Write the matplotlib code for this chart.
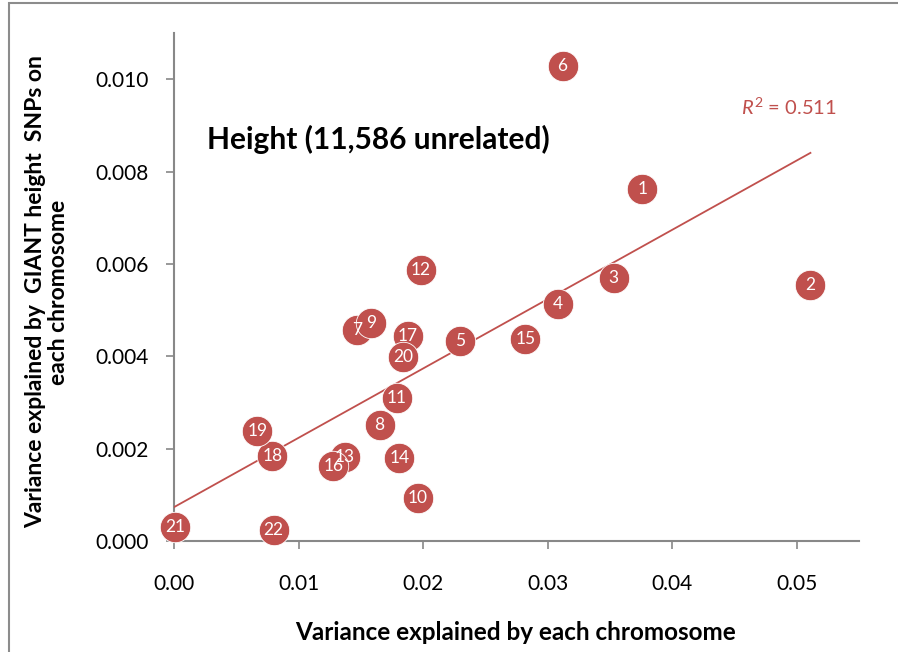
import numpy as np
import matplotlib
matplotlib.use("Agg")
import matplotlib.pyplot as plt
from matplotlib.patches import Rectangle

plt.rcParams['font.family'] = ['Lato', 'DejaVu Sans']
plt.rcParams['mathtext.fontset'] = 'custom'
plt.rcParams['mathtext.rm'] = 'Lato'
plt.rcParams['mathtext.it'] = 'Lato:italic'

# Per-chromosome variance explained
chromosomes = [str(i) for i in range(1, 23)]
var_chromosome = [0.0376, 0.0511, 0.0353, 0.0308, 0.0230, 0.0312, 0.0147, 0.0165,
                  0.0158, 0.0196, 0.0179, 0.0198, 0.0137, 0.0181, 0.0282, 0.0128,
                  0.0188, 0.0079, 0.0067, 0.0184, 0.0001, 0.0080]
var_giant = [0.00762, 0.00554, 0.00569, 0.00513, 0.00433, 0.01028, 0.00457, 0.00251,
             0.00472, 0.00093, 0.00310, 0.00587, 0.00182, 0.00180, 0.00437, 0.00162,
             0.00444, 0.00184, 0.00238, 0.00398, 0.00030, 0.00024]
r2_text = "0.511"

xticks = [0.00, 0.01, 0.02, 0.03, 0.04, 0.05]
yticks = [0.000, 0.002, 0.004, 0.006, 0.008, 0.010]

red = '#C0504D'
axis_gray = '#888888'

fig = plt.figure(figsize=(8.98, 6.52), dpi=100)
ax = fig.add_axes([174/898, 111/652, 685/898, 508/652])

# outer chart border
fig.patches.append(Rectangle((9/898, -0.05), 1.2, (652 - 3)/652 + 0.05,
                             transform=fig.transFigure, fill=False,
                             edgecolor='#8c8c8c', linewidth=1.5))

x = np.array(var_chromosome)
y = np.array(var_giant)

# linear trendline
slope, intercept = np.polyfit(x, y, 1)
xs = np.array([0.0, x.max()])
ax.plot(xs, slope * xs + intercept, color=red, linewidth=1.3, zorder=2)

ax.scatter(x, y, s=480, color=red, edgecolors='white', linewidths=0.6, zorder=3,
           clip_on=False)
for xi, yi, lab in zip(x, y, chromosomes):
    ax.text(xi, yi, lab, color='white', fontsize=12.5, ha='center', va='center', zorder=4)

ax.set_xlim(0, 0.055)
ax.set_ylim(0, 0.011)
ax.set_xticks(xticks)
ax.set_yticks(yticks)
ax.set_xticklabels([f"{t:.2f}" for t in xticks])
ax.set_yticklabels([f"{t:.3f}" for t in yticks])

for side in ['top', 'right']:
    ax.spines[side].set_visible(False)
for side in ['left', 'bottom']:
    ax.spines[side].set_color(axis_gray)
    ax.spines[side].set_linewidth(1.5)
    ax.spines[side].set_zorder(1)
ax.tick_params(axis='both', direction='out', length=6, width=1.2, color=axis_gray,
               labelsize=15, labelcolor='black')
ax.tick_params(axis='x', pad=18)
ax.tick_params(axis='y', pad=12)

ax.text(0.00265, 0.0087, "Height (11,586 unrelated)", fontsize=21.5, fontweight='bold',
        ha='left', va='center')
ax.text(0.0455, 0.0094, r"$R^2$ = " + r2_text, color=red, fontsize=14.5,
        ha='left', va='center')

fig.text(516/898, 1 - 632/652, "Variance explained by each chromosome",
         fontsize=17.5, fontweight='bold', ha='center', va='center')
fig.text(47/898, 1 - 292/652,
         "Variance explained by  GIANT height  SNPs on\neach chromosome",
         fontsize=16.5, fontweight='bold', ha='center', va='center', rotation=90,
         linespacing=1.15)

fig.savefig("out.png", dpi=100)
